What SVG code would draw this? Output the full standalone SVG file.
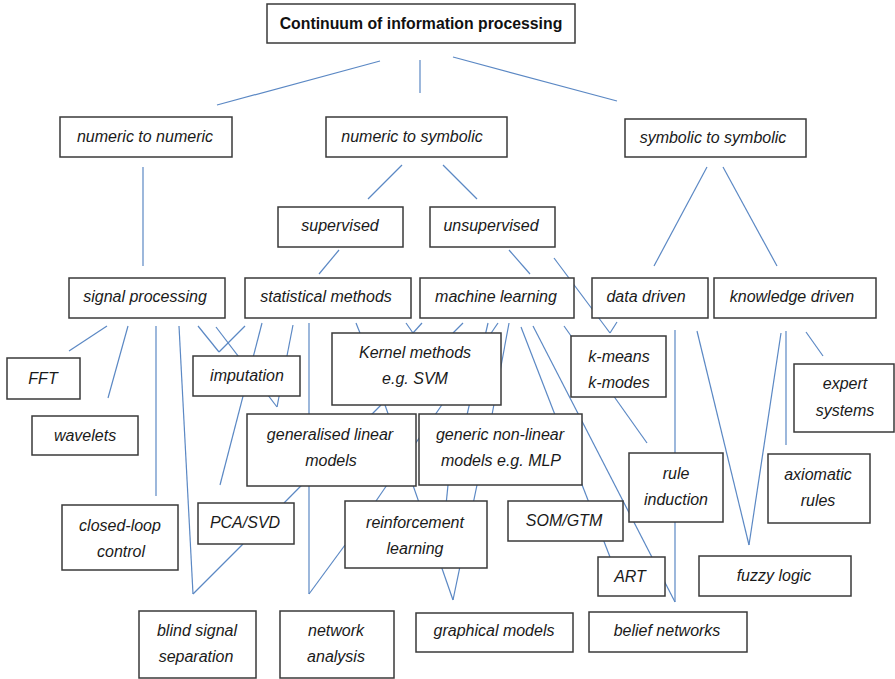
<svg xmlns="http://www.w3.org/2000/svg" width="895" height="679" viewBox="0 0 895 679">
<style>
.box{fill:#ffffff;stroke:#3a3a3a;stroke-width:1.5}
.t{font-family:"Liberation Sans",Arial,sans-serif;font-size:16px;font-style:italic;fill:#1a1a1a;text-anchor:middle}
.title{font-family:"Liberation Sans",Arial,sans-serif;font-size:15.8px;font-weight:bold;fill:#111;text-anchor:middle}
#connectors line{stroke:#5b88c4;stroke-width:1.2;fill:none}
</style>
<rect width="895" height="679" fill="#ffffff"/>
<g id="connectors">
<line x1="380" y1="61" x2="217" y2="105"/>
<line x1="420" y1="60" x2="420" y2="93"/>
<line x1="453" y1="57" x2="617" y2="101"/>
<line x1="143" y1="167" x2="143" y2="266"/>
<line x1="402" y1="165" x2="368" y2="199"/>
<line x1="443" y1="165" x2="477" y2="199"/>
<line x1="707" y1="167" x2="654" y2="266"/>
<line x1="723" y1="167" x2="777" y2="266"/>
<line x1="339" y1="250" x2="319" y2="274"/>
<line x1="509" y1="250" x2="530" y2="274"/>
<line x1="554" y1="258" x2="610" y2="333"/>
<line x1="617" y1="322" x2="610" y2="333"/>
<line x1="107" y1="326" x2="69" y2="351"/>
<line x1="128" y1="326" x2="108" y2="398"/>
<line x1="156" y1="326" x2="156" y2="496"/>
<line x1="179" y1="326" x2="193" y2="594"/>
<line x1="243" y1="544" x2="193" y2="594"/>
<line x1="198" y1="326" x2="219" y2="352"/>
<line x1="245" y1="326" x2="219" y2="352"/>
<line x1="216" y1="327" x2="277" y2="407"/>
<line x1="293" y1="325" x2="277" y2="407"/>
<line x1="262" y1="323" x2="220" y2="485"/>
<line x1="309" y1="323" x2="309" y2="594"/>
<line x1="345" y1="545" x2="309" y2="594"/>
<line x1="381" y1="405" x2="284" y2="503"/>
<line x1="356" y1="323" x2="360" y2="333"/>
<line x1="406" y1="323" x2="413" y2="333"/>
<line x1="422" y1="323" x2="413" y2="333"/>
<line x1="463" y1="323" x2="453" y2="333"/>
<line x1="488" y1="323" x2="467" y2="415"/>
<line x1="498" y1="323" x2="376" y2="501"/>
<line x1="509" y1="323" x2="492" y2="415"/>
<line x1="521" y1="327" x2="610" y2="557"/>
<line x1="533" y1="326" x2="675" y2="602"/>
<line x1="564" y1="326" x2="647" y2="443"/>
<line x1="675" y1="330" x2="675" y2="602"/>
<line x1="697" y1="331" x2="749" y2="545"/>
<line x1="781" y1="333" x2="749" y2="545"/>
<line x1="786" y1="331" x2="786" y2="445"/>
<line x1="806" y1="332" x2="823" y2="356"/>
<line x1="385" y1="405" x2="453" y2="600"/>
<line x1="477" y1="485" x2="453" y2="600"/>
<line x1="448" y1="485" x2="446" y2="505"/>
</g>
<g id="title"><rect class="box" x="267" y="4" width="308" height="39"/><text class="title" x="421" y="29">Continuum of information processing</text></g>
<g id="numeric-to-numeric"><rect class="box" x="60" y="117" width="172" height="40"/><text class="t" x="145" y="142">numeric to numeric</text></g>
<g id="numeric-to-symbolic"><rect class="box" x="326" y="117" width="181" height="40"/><text class="t" x="412" y="142">numeric to symbolic</text></g>
<g id="symbolic-to-symbolic"><rect class="box" x="625" y="119" width="181" height="38"/><text class="t" x="713" y="143">symbolic to symbolic</text></g>
<g id="supervised"><rect class="box" x="278" y="207" width="125" height="40"/><text class="t" x="340" y="231">supervised</text></g>
<g id="unsupervised"><rect class="box" x="430" y="207" width="125" height="40"/><text class="t" x="491" y="231">unsupervised</text></g>
<g id="signal-processing"><rect class="box" x="69" y="278" width="156" height="40"/><text class="t" x="145" y="302">signal processing</text></g>
<g id="statistical-methods"><rect class="box" x="245" y="278" width="166" height="40"/><text class="t" x="326" y="302">statistical methods</text></g>
<g id="machine-learning"><rect class="box" x="420" y="278" width="154" height="40"/><text class="t" x="496" y="302">machine learning</text></g>
<g id="data-driven"><rect class="box" x="592" y="278" width="116" height="40"/><text class="t" x="646" y="302">data driven</text></g>
<g id="knowledge-driven"><rect class="box" x="714" y="278" width="162" height="40"/><text class="t" x="792" y="302">knowledge driven</text></g>
<g id="fft"><rect class="box" x="7" y="358" width="73" height="41"/><text class="t" x="43" y="384">FFT</text></g>
<g id="wavelets"><rect class="box" x="32" y="416" width="106" height="39"/><text class="t" x="85" y="441">wavelets</text></g>
<g id="imputation"><rect class="box" x="193" y="356" width="107" height="40"/><text class="t" x="247" y="381">imputation</text></g>
<g id="kernel-methods"><rect class="box" x="332" y="333" width="169" height="72"/><text class="t" x="415" y="358">Kernel methods</text><text class="t" x="415" y="384">e.g. SVM</text></g>
<g id="k-means"><rect class="box" x="571" y="336" width="95" height="61"/><text class="t" x="619" y="362">k-means</text><text class="t" x="619" y="388">k-modes</text></g>
<g id="expert-systems"><rect class="box" x="794" y="364" width="100" height="68"/><text class="t" x="845" y="389">expert</text><text class="t" x="845" y="416">systems</text></g>
<g id="generalised-linear-models"><rect class="box" x="247" y="414" width="169" height="72"/><text class="t" x="330" y="440">generalised linear</text><text class="t" x="331" y="466">models</text></g>
<g id="generic-non-linear-models"><rect class="box" x="419" y="414" width="163" height="71"/><text class="t" x="500" y="440">generic non-linear</text><text class="t" x="501" y="466">models e.g. MLP</text></g>
<g id="rule-induction"><rect class="box" x="629" y="453" width="94" height="69"/><text class="t" x="676" y="479">rule</text><text class="t" x="676" y="505">induction</text></g>
<g id="axiomatic-rules"><rect class="box" x="768" y="454" width="102" height="69"/><text class="t" x="818" y="480">axiomatic</text><text class="t" x="818" y="506">rules</text></g>
<g id="closed-loop-control"><rect class="box" x="62" y="505" width="116" height="65"/><text class="t" x="120" y="531">closed-loop</text><text class="t" x="121" y="557">control</text></g>
<g id="pca-svd"><rect class="box" x="198" y="503" width="96" height="41"/><text class="t" x="245" y="528">PCA/SVD</text></g>
<g id="reinforcement-learning"><rect class="box" x="345" y="501" width="142" height="67"/><text class="t" x="415" y="528">reinforcement</text><text class="t" x="415" y="554">learning</text></g>
<g id="som-gtm"><rect class="box" x="508" y="501" width="115" height="40"/><text class="t" x="564" y="526">SOM/GTM</text></g>
<g id="art"><rect class="box" x="598" y="557" width="67" height="39"/><text class="t" x="630" y="582">ART</text></g>
<g id="fuzzy-logic"><rect class="box" x="699" y="556" width="152" height="40"/><text class="t" x="774" y="581">fuzzy logic</text></g>
<g id="blind-signal-separation"><rect class="box" x="139" y="611" width="117" height="67"/><text class="t" x="197" y="636">blind signal</text><text class="t" x="196" y="662">separation</text></g>
<g id="network-analysis"><rect class="box" x="280" y="611" width="114" height="67"/><text class="t" x="336" y="636">network</text><text class="t" x="336" y="662">analysis</text></g>
<g id="graphical-models"><rect class="box" x="416" y="613" width="157" height="39"/><text class="t" x="494" y="636">graphical models</text></g>
<g id="belief-networks"><rect class="box" x="589" y="612" width="158" height="40"/><text class="t" x="667" y="636">belief networks</text></g>
</svg>
